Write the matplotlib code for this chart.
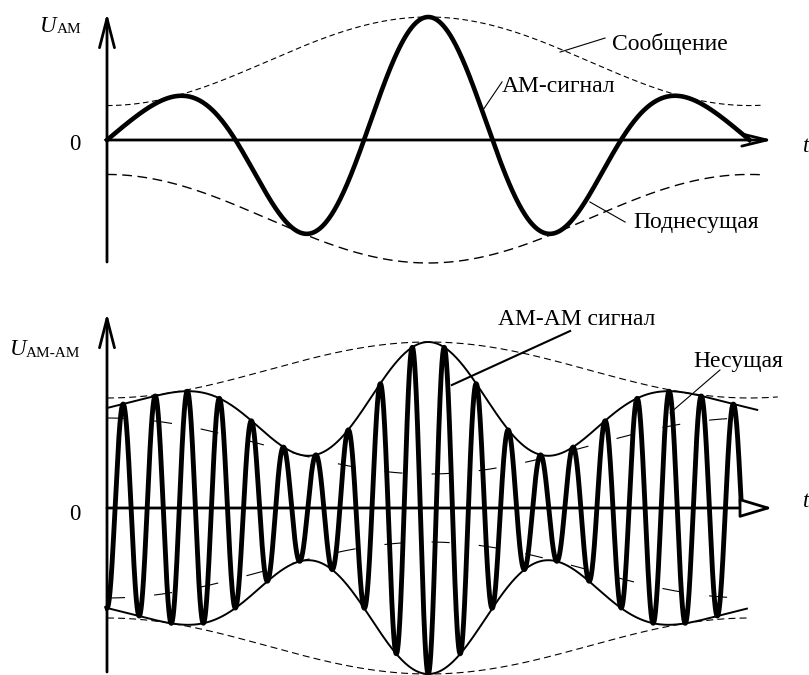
import numpy as np
import matplotlib
matplotlib.use('Agg')
import matplotlib.pyplot as plt

plt.rcParams['font.family'] = ['Liberation Serif', 'DejaVu Serif']
plt.rcParams['lines.scale_dashes'] = False

# --- signal parameters (units: subcarrier periods / amplitude units) ---
subcarrier_periods = 2.5          # AM signal length on the top plot
message_period = 2.5              # one full message period
msg_top = [0.28, 1.0]             # message envelope min / max, top plot
msg_bottom = [0.10, 0.66]         # message depth min / max, bottom plot
carrier_level = 1.0               # unmodulated carrier amplitude, bottom plot
carrier_ratio = 8                 # carrier cycles per subcarrier cycle
carrier_end = 19.75 / 8           # carrier stops on the zero line

top_labels = ['Сообщение', 'АМ-сигнал', 'Поднесущая']
bottom_labels = ['АМ-АМ сигнал', 'Несущая']


def message(t, lo, hi):
    mid, half = (lo + hi) / 2, (hi - lo) / 2
    return mid - half * np.cos(2 * np.pi * t / message_period)


fig = plt.figure(figsize=(8.09, 6.75), dpi=100)

# pixel -> data: x = (px-107)/257 ; top y = (140-py)/123 ; bottom y = (508-py)/100
xlim = (-107 / 257, 702 / 257)
ax1 = fig.add_axes([0, 395 / 675, 1, 280 / 675])
ax1.set_xlim(*xlim)
ax1.set_ylim(-140 / 123, 140 / 123)
ax2 = fig.add_axes([0, 0, 1, 385 / 675])
ax2.set_xlim(*xlim)
ax2.set_ylim(-167 / 100, 218 / 100)
for ax in (ax1, ax2):
    ax.axis('off')

# ---------------- top: AM signal ----------------
t = np.linspace(0, subcarrier_periods, 1500)
am = message(t, *msg_top) * np.sin(2 * np.pi * t)
te = np.linspace(0, 2.55, 600)
ax1.plot(te, message(te, *msg_top), color='black', lw=0.8, ls=(0, (4, 2.5)))
ax1.plot(te, -message(te, *msg_top), color='black', lw=1.0, ls=(0, (7, 4)))
ax1.plot(t, am, color='black', lw=3.3, solid_joinstyle='round', zorder=3)

ax1.annotate('', xy=(0, 1.033), xytext=(0, -0.992),
             arrowprops=dict(arrowstyle='->,head_length=1.05,head_width=0.27',
                             lw=2, color='black', mutation_scale=20, shrinkA=0, shrinkB=0))
ax1.annotate('', xy=(2.59, 0), xytext=(0, 0),
             arrowprops=dict(arrowstyle='->,head_length=0.9,head_width=0.22',
                             lw=2, color='black', mutation_scale=20, shrinkA=0, shrinkB=0))

ax1.text(-0.261, 0.878, 'U', fontsize=16.5, style='italic', va='baseline')
ax1.text(-0.195, 0.870, 'AM', fontsize=11, va='baseline')
ax1.text(-0.105, -0.081, '0', fontsize=16.5, ha='right', va='baseline')
ax1.text(2.708, -0.098, 't', fontsize=16.5, style='italic', va='baseline')

ax1.text(1.965, 0.732, top_labels[0], fontsize=17, va='baseline')
ax1.plot([1.763, 1.938], [0.715, 0.829], color='black', lw=0.8)
ax1.text(1.537, 0.39, top_labels[1], fontsize=17, va='baseline')
ax1.plot([1.463, 1.537], [0.244, 0.472], color='black', lw=0.8)
ax1.text(2.047, -0.715, top_labels[2], fontsize=17, va='baseline')
ax1.plot([1.879, 2.016], [-0.504, -0.667], color='black', lw=0.8)

# ---------------- bottom: AM-AM signal ----------------
def envelope(t):
    return carrier_level + message(t, *msg_bottom) * np.sin(2 * np.pi * t)


tc = np.linspace(0, carrier_end, 4000)
carrier = -envelope(tc) * np.cos(2 * np.pi * carrier_ratio * tc)

tu = np.linspace(0, 2.53, 800)
tl = np.linspace(0, 2.49, 800)
to = np.linspace(0, 2.61, 800)
ax2.plot(to, carrier_level + message(to, *msg_bottom), color='black', lw=0.8, ls=(0, (5, 3)))
ax2.plot(tl, -(carrier_level + message(tl, *msg_bottom)), color='black', lw=0.8, ls=(0, (5, 3)))
ax2.plot(tl, carrier_level - message(tl, *msg_bottom), color='black', lw=0.8, ls=(0, (13, 21)))
ax2.plot(tl, -(carrier_level - message(tl, *msg_bottom)), color='black', lw=0.8, ls=(0, (13, 21)))
ax2.plot(tu, envelope(tu), color='black', lw=1.4)
ax2.plot(tl, -envelope(tl), color='black', lw=1.4)
ax2.plot(tc, carrier, color='black', lw=3.5, solid_joinstyle='round', zorder=3)

ax2.annotate('', xy=(0, 1.95), xytext=(0, -1.64),
             arrowprops=dict(arrowstyle='->,head_length=1.05,head_width=0.27',
                             lw=2, color='black', mutation_scale=20, shrinkA=0, shrinkB=0))
ax2.annotate('', xy=(2.59, 0), xytext=(0, 0),
             arrowprops=dict(arrowstyle='-|>,head_length=1.0,head_width=0.3',
                             lw=2, ec='black', fc='white', mutation_scale=20,
                             shrinkA=0, shrinkB=0), zorder=4)

ax2.text(-0.377, 1.53, 'U', fontsize=16.5, style='italic', va='baseline')
ax2.text(-0.315, 1.51, 'AM-AM', fontsize=11, va='baseline')
ax2.text(-0.105, -0.12, '0', fontsize=16.5, ha='right', va='baseline')
ax2.text(2.708, 0.01, 't', fontsize=16.5, style='italic', va='baseline')

ax2.text(1.521, 1.83, bottom_labels[0], fontsize=17, va='baseline')
ax2.plot([1.342, 1.802], [1.23, 1.77], color='black', lw=1.5)
ax2.text(2.28, 1.41, bottom_labels[1], fontsize=17, va='baseline')
ax2.plot([2.191, 2.385], [0.95, 1.38], color='black', lw=0.8)

fig.savefig('out.png', dpi=100)
